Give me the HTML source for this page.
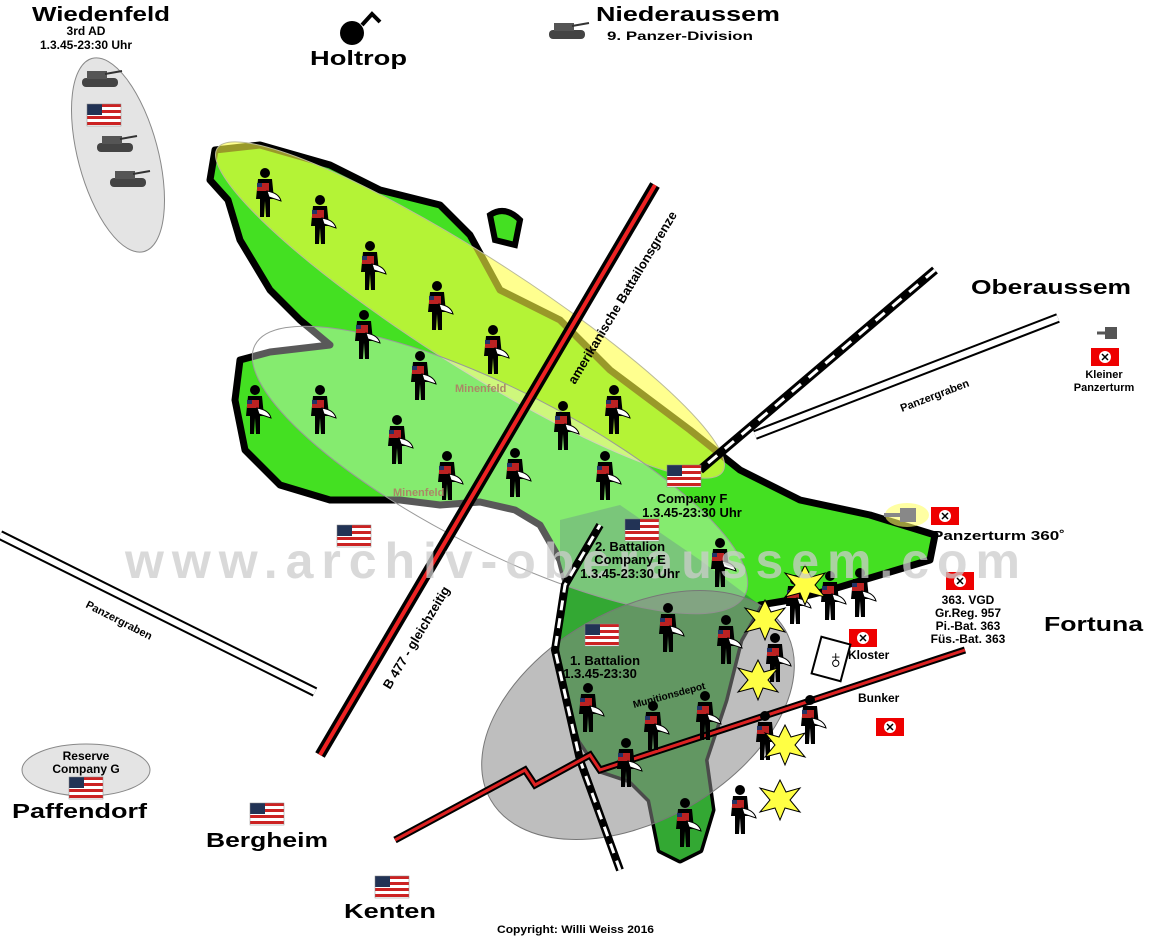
<!DOCTYPE html>
<html><head><meta charset="utf-8"><style>
html,body{margin:0;padding:0;background:#fff}
svg{display:block}
text{font-family:"Liberation Sans",sans-serif;font-weight:bold}
</style></head><body>
<svg width="1150" height="950" viewBox="0 0 1150 950" xmlns="http://www.w3.org/2000/svg">
<defs>
<g id="sol">
<circle cx="0" cy="-22" r="5" fill="#000"/>
<path d="M-7,-16 L7,-16 L9,4 L5,4 L5,22 L1,22 L0,6 L-1,22 L-5,22 L-5,4 L-9,4 Z" fill="#000"/>
<rect x="-8" y="-12" width="12" height="8" fill="#b22"/>
<rect x="-8" y="-12" width="5" height="4" fill="#236"/>
<path d="M2,-4 Q14,-2 16,6 Q10,4 4,2 Z" fill="#fff" stroke="#000" stroke-width="1"/>
</g>
<g id="us">
<rect x="0" y="0" width="34" height="22" fill="#fff"/>
<rect x="0" y="0" width="34" height="3" fill="#c22"/><rect x="0" y="6" width="34" height="3" fill="#c22"/>
<rect x="0" y="12" width="34" height="3" fill="#c22"/><rect x="0" y="18" width="34" height="3" fill="#c22"/>
<rect x="0" y="0" width="15" height="11" fill="#235"/>
<rect x="0" y="0" width="34" height="22" fill="none" stroke="#888" stroke-width="0.5"/>
</g>
<g id="de">
<rect x="0" y="0" width="28" height="18" fill="#e00"/>
<circle cx="14" cy="9" r="6" fill="#fff"/>
<path d="M11,6 L14,9 L17,6 M11,12 L14,9 L17,12" stroke="#000" stroke-width="1.5" fill="none"/>
</g>
<g id="tank">
<rect x="-18" y="-2" width="36" height="9" rx="4" fill="#444"/>
<rect x="-13" y="-9" width="20" height="8" fill="#555"/>
<line x1="5" y1="-6" x2="22" y2="-9" stroke="#333" stroke-width="2"/>
</g>
<g id="boom"><path d="M0,-20 L6,-8 L20,-12 L10,0 L20,12 L5,8 L0,20 L-5,8 L-20,12 L-10,0 L-20,-12 L-6,-8 Z" fill="#ffff44" stroke="#000" stroke-width="1"/></g>
</defs>

<path d="M215,150 L260,145 L330,165 L380,190 L440,205 L470,235 L500,290 L560,320 L610,370 L650,400 L690,430 L740,470 L800,500 L870,515 L935,535 L930,560 L880,575 L830,590 L790,600 L760,605 L740,640 L725,700 L705,760 L712,810 L700,850 L680,860 L660,850 L650,800 L630,780 L600,770 L580,740 L565,690 L558,640 L568,590 L560,560 L540,525 L515,510 L480,502 L440,505 L400,500 L330,500 L280,485 L245,450 L235,400 L240,360 L270,352 L330,345 L300,320 L270,290 L240,240 L228,200 L210,180 Z" fill="#44e022" stroke="#000" stroke-width="7" stroke-linejoin="round"/>
<path d="M560,520 L620,505 L700,560 L760,605 L740,640 L725,700 L705,760 L712,810 L700,850 L680,860 L660,850 L650,800 L630,780 L600,770 L580,740 L565,690 L558,640 L568,590 L560,560 Z" fill="#33a833"/>
<path d="M490,215 Q505,205 520,220 L515,245 L495,240 Z" fill="#44e022" stroke="#000" stroke-width="6"/>
<ellipse cx="470" cy="310" rx="300" ry="55" transform="rotate(32.6 470 310)" fill="#ffff44" fill-opacity="0.6" stroke="#bb9" stroke-width="1"/>
<ellipse cx="500" cy="470" rx="275" ry="80" transform="rotate(27 500 470)" fill="#fff" fill-opacity="0.35" stroke="#999" stroke-width="1"/>
<ellipse cx="638" cy="715" rx="170" ry="105" transform="rotate(-30 638 715)" fill="#888" fill-opacity="0.55" stroke="#777"/>
<ellipse cx="118" cy="155" rx="40" ry="100" transform="rotate(-15 118 155)" fill="#e4e4e4" stroke="#888"/>
<ellipse cx="86" cy="770" rx="64" ry="26" fill="#e4e4e4" stroke="#888"/>

<line x1="655" y1="185" x2="320" y2="755" stroke="#000" stroke-width="11"/>
<line x1="655" y1="185" x2="320" y2="755" stroke="#e22" stroke-width="4"/>
<line x1="935" y1="270" x2="700" y2="470" stroke="#000" stroke-width="9"/>
<line x1="935" y1="270" x2="700" y2="470" stroke="#fff" stroke-width="3" stroke-dasharray="12 10"/>
<path d="M620,870 L580,760 L555,650 L565,585 L600,525" fill="none" stroke="#000" stroke-width="8"/>
<path d="M620,870 L580,760 L555,650 L565,585 L600,525" fill="none" stroke="#fff" stroke-width="3" stroke-dasharray="10 8"/>
<path d="M395,840 L525,770 L535,785 L590,755 L600,770 L965,650" fill="none" stroke="#000" stroke-width="7"/>
<path d="M395,840 L525,770 L535,785 L590,755 L600,770 L965,650" fill="none" stroke="#d22" stroke-width="3"/>
<line x1="755" y1="435" x2="1058" y2="318" stroke="#000" stroke-width="10"/>
<line x1="755" y1="435" x2="1058" y2="318" stroke="#fff" stroke-width="6"/>
<line x1="0" y1="535" x2="315" y2="692" stroke="#000" stroke-width="10"/>
<line x1="0" y1="535" x2="315" y2="692" stroke="#fff" stroke-width="6"/>

<g>
<use href="#sol" x="265" y="195"/><use href="#sol" x="320" y="222"/><use href="#sol" x="370" y="268"/>
<use href="#sol" x="437" y="308"/><use href="#sol" x="364" y="337"/><use href="#sol" x="493" y="352"/>
<use href="#sol" x="420" y="378"/><use href="#sol" x="255" y="412"/><use href="#sol" x="320" y="412"/>
<use href="#sol" x="397" y="442"/><use href="#sol" x="447" y="478"/><use href="#sol" x="515" y="475"/>
<use href="#sol" x="563" y="428"/><use href="#sol" x="614" y="412"/><use href="#sol" x="605" y="478"/>
<use href="#sol" x="668" y="630"/><use href="#sol" x="726" y="642"/><use href="#sol" x="720" y="565"/>
<use href="#sol" x="588" y="710"/><use href="#sol" x="653" y="728"/><use href="#sol" x="705" y="718"/>
<use href="#sol" x="626" y="765"/><use href="#sol" x="685" y="825"/><use href="#sol" x="740" y="812"/>
<use href="#sol" x="765" y="738"/><use href="#sol" x="810" y="722"/><use href="#sol" x="775" y="660"/>
<use href="#sol" x="830" y="598"/><use href="#sol" x="860" y="595"/><use href="#sol" x="795" y="602"/>
</g>
<use href="#boom" x="805" y="585"/><use href="#boom" x="765" y="620"/><use href="#boom" x="758" y="680"/>
<use href="#boom" x="785" y="745"/><use href="#boom" x="780" y="800"/>

<use href="#us" x="87" y="104"/><use href="#us" x="337" y="525"/><use href="#us" x="667" y="465"/>
<use href="#us" x="625" y="519"/><use href="#us" x="585" y="624"/><use href="#us" x="250" y="803"/>
<use href="#us" x="69" y="777"/><use href="#us" x="375" y="876"/>
<use href="#de" x="1091" y="348"/><use href="#de" x="931" y="507"/><use href="#de" x="946" y="572"/>
<use href="#de" x="849" y="629"/><use href="#de" x="876" y="718"/>

<use href="#tank" x="100" y="80"/><use href="#tank" x="115" y="145"/><use href="#tank" x="128" y="180"/>
<use href="#tank" x="567" y="32"/>
<ellipse cx="907" cy="515" rx="22" ry="12" fill="#ffff66" opacity="0.6"/>
<rect x="900" y="508" width="16" height="14" fill="#888"/><line x1="884" y1="515" x2="900" y2="515" stroke="#888" stroke-width="4"/>
<rect x="1105" y="327" width="12" height="12" fill="#555"/><line x1="1097" y1="333" x2="1105" y2="333" stroke="#555" stroke-width="3"/>
<circle cx="352" cy="33" r="12" fill="#000"/><path d="M362,25 L372,14 L380,22" stroke="#000" stroke-width="4" fill="none"/>
<rect x="816" y="640" width="30" height="38" fill="#fff" stroke="#000" stroke-width="2" transform="rotate(15 831 659)"/>
<text x="826" y="668" font-size="26" font-weight="normal">♁</text>

<text x="125" y="578" font-size="50" fill="#ccc" fill-opacity="0.75" textLength="895" lengthAdjust="spacing">www.archiv-oberaussem.com</text>

<text x="32" y="21" font-size="20" textLength="138" lengthAdjust="spacingAndGlyphs">Wiedenfeld</text>
<text x="86" y="35" font-size="12" text-anchor="middle">3rd AD</text>
<text x="86" y="49" font-size="12" text-anchor="middle">1.3.45-23:30 Uhr</text>
<text x="310" y="65" font-size="20" textLength="97" lengthAdjust="spacingAndGlyphs">Holtrop</text>
<text x="596" y="21" font-size="20" textLength="184" lengthAdjust="spacingAndGlyphs">Niederaussem</text>
<text x="607" y="40" font-size="12" textLength="146" lengthAdjust="spacingAndGlyphs">9. Panzer-Division</text>
<text x="971" y="294" font-size="20" textLength="160" lengthAdjust="spacingAndGlyphs">Oberaussem</text>
<text x="1104" y="378" font-size="11" text-anchor="middle">Kleiner</text>
<text x="1104" y="391" font-size="11" text-anchor="middle">Panzerturm</text>
<text x="932" y="540" font-size="13" textLength="133" lengthAdjust="spacingAndGlyphs">Panzerturm 360˚</text>
<text x="968" y="604" font-size="12" text-anchor="middle">363. VGD</text>
<text x="968" y="617" font-size="12" text-anchor="middle">Gr.Reg. 957</text>
<text x="968" y="630" font-size="12" text-anchor="middle">Pi.-Bat. 363</text>
<text x="968" y="643" font-size="12" text-anchor="middle">Füs.-Bat. 363</text>
<text x="1044" y="631" font-size="20" textLength="99" lengthAdjust="spacingAndGlyphs">Fortuna</text>
<text x="848" y="659" font-size="12">Kloster</text>
<text x="858" y="702" font-size="12">Bunker</text>
<text x="12" y="818" font-size="20" textLength="135" lengthAdjust="spacingAndGlyphs">Paffendorf</text>
<text x="86" y="760" font-size="12" text-anchor="middle">Reserve</text>
<text x="86" y="773" font-size="12" text-anchor="middle">Company G</text>
<text x="206" y="847" font-size="20" textLength="122" lengthAdjust="spacingAndGlyphs">Bergheim</text>
<text x="344" y="918" font-size="20" textLength="92" lengthAdjust="spacingAndGlyphs">Kenten</text>
<text x="497" y="933" font-size="11" textLength="157" lengthAdjust="spacingAndGlyphs">Copyright: Willi Weiss 2016</text>
<text x="692" y="503" font-size="13" text-anchor="middle">Company F</text>
<text x="692" y="517" font-size="13" text-anchor="middle">1.3.45-23:30 Uhr</text>
<text x="630" y="551" font-size="13" text-anchor="middle">2. Battalion</text>
<text x="630" y="564" font-size="13" text-anchor="middle">Company E</text>
<text x="630" y="578" font-size="13" text-anchor="middle">1.3.45-23:30 Uhr</text>
<text x="605" y="665" font-size="13" text-anchor="middle">1. Battalion</text>
<text x="600" y="678" font-size="13" text-anchor="middle">1.3.45-23:30</text>
<text x="634" y="708" font-size="10" transform="rotate(-15 634 708)">Munitionsdepot</text>
<text x="455" y="392" font-size="11" fill="#a86">Minenfeld</text>
<text x="393" y="496" font-size="11" fill="#a86">Minenfeld</text>
<text x="902" y="412" font-size="11" transform="rotate(-21 902 412)">Panzergraben</text>
<text x="85" y="607" font-size="11" transform="rotate(27 85 607)">Panzergraben</text>
<text x="575" y="385" font-size="13" transform="rotate(-59 575 385)">amerikanische Battailonsgrenze</text>
<text x="390" y="690" font-size="13" transform="rotate(-59 390 690)">B 477 - gleichzeitig</text>
</svg>
</body></html>
